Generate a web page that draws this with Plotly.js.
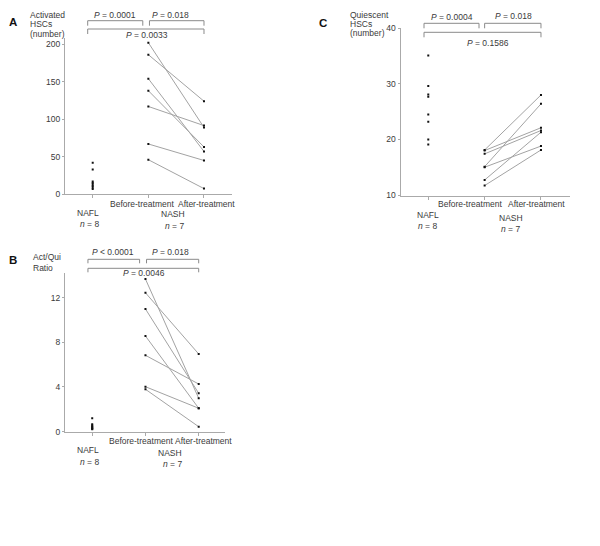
<!DOCTYPE html>
<html>
<head>
<meta charset="utf-8">
<script src="https://cdn.plot.ly/plotly-3.0.1.min.js"></script>
<style>html,body{margin:0;padding:0;background:#fff;}#chart{width:600px;height:546px;}</style>
</head>
<body>
<div id="chart"></div>
<script>
// ---- data ----
const catLabels = ['NAFL', 'Before-treatment', 'After-treatment'];
const groupLabel = 'NASH';
const nLabels = ['<i>n</i> = 8', '<i>n</i> = 7'];

// Panel A: Activated HSCs (number)
const aNafl = [42, 33, 17, 15, 13, 11, 9, 7];
const aBefore = [202, 186, 154, 138, 117, 67, 46];
const aAfter = [89, 124, 57, 63, 91.5, 45, 7.5];
const aTicks = [0, 50, 100, 150, 200];
const aP = ['<i>P</i> = 0.0001', '<i>P</i> = 0.018', '<i>P</i> = 0.0033'];

// Panel B: Act/Qui ratio
const bNafl = [1.2, 0.65, 0.55, 0.45, 0.4, 0.3, 0.25, 0.2];
const bBefore = [13.66, 12.43, 10.98, 8.56, 6.83, 4.02, 3.79];
const bAfter = [2.98, 6.95, 3.43, 2.09, 4.26, 2.09, 0.44];
const bTicks = [0, 4, 8, 12];
const bP = ['<i>P</i> &lt; 0.0001', '<i>P</i> = 0.018', '<i>P</i> = 0.0046'];

// Panel C: Quiescent HSCs (number)
const cNafl = [35.1, 29.6, 28.1, 27.7, 24.5, 23.2, 20.0, 19.1];
const cBefore = [18.1, 18.0, 17.4, 15.1, 15.0, 12.7, 11.7];
const cAfter = [28.0, 22.1, 21.6, 26.4, 18.8, 21.3, 18.1];
const cTicks = [10, 20, 30, 40];
const cP = ['<i>P</i> = 0.0004', '<i>P</i> = 0.018', '<i>P</i> = 0.1586'];

// ---- styling / layout ----
const W = 600, H = 546;
const FONT = "'Liberation Sans', Arial, sans-serif";
const TXT = '#3a3a3a';
const px = x => x / W;
const py = y => 1 - y / H;

const traces = [];
const annotations = [];
const shapes = [];

function addPanel(cfg) {
  const xa = 'x' + cfg.id, ya = 'y' + cfg.id;
  // connecting lines
  const lx = [], ly = [];
  cfg.before.forEach((b, i) => { lx.push(1, 2, null); ly.push(b, cfg.after[i], null); });
  traces.push({x: lx, y: ly, xaxis: xa, yaxis: ya, mode: 'lines', type: 'scatter',
    line: {color: '#a3a3a3', width: 1}, hoverinfo: 'skip', showlegend: false});
  // points
  const mx = [], my = [];
  cfg.nafl.forEach(v => { mx.push(0); my.push(v); });
  cfg.before.forEach(v => { mx.push(1); my.push(v); });
  cfg.after.forEach(v => { mx.push(2); my.push(v); });
  traces.push({x: mx, y: my, xaxis: xa, yaxis: ya, mode: 'markers', type: 'scatter',
    marker: {symbol: 'square', size: 2, color: '#111'}, showlegend: false});

  const axX = 'xaxis' + cfg.id;
  const axY = 'yaxis' + cfg.id;
  layout[axX] = {domain: cfg.xd, range: cfg.xr, anchor: ya, showgrid: false, zeroline: false,
    showline: true, linecolor: '#aaa', linewidth: 1, ticks: 'outside', ticklen: 3, tickcolor: '#aaa',
    tickvals: [0, 1, 2], showticklabels: false, fixedrange: true};
  layout[axY] = {domain: cfg.yd, range: cfg.yr, anchor: xa, showgrid: false, zeroline: false,
    showline: true, linecolor: '#aaa', linewidth: 1, ticks: 'outside', ticklen: 2, tickcolor: '#aaa',
    tickvals: cfg.ticks, tickfont: {family: FONT, size: 8.5, color: TXT}, fixedrange: true};

  const ann = (text, x, y, opts) => annotations.push(Object.assign({text, x: px(x), y: py(y), xref: 'paper', yref: 'paper',
    showarrow: false, xanchor: 'center', yanchor: 'middle', font: {family: FONT, size: 8.5, color: TXT}}, opts || {}));
  // panel letter
  ann('<b>' + cfg.letter + '</b>', cfg.letterPos[0], cfg.letterPos[1], {font: {family: FONT, size: 11.5, color: '#111'}});
  // y title lines
  cfg.title.forEach((t, i) => ann(t, cfg.titlePos[0], cfg.titlePos[1] + i * cfg.titleStep, {xanchor: 'left'}));
  // category labels
  ann(catLabels[1], cfg.catPos[1][0], cfg.catPos[1][1]);
  ann(catLabels[2], cfg.catPos[2][0], cfg.catPos[2][1]);
  ann(catLabels[0], cfg.catPos[0][0], cfg.catPos[0][1]);
  ann(nLabels[0], cfg.nPos[0][0], cfg.nPos[0][1]);
  ann(groupLabel, cfg.groupPos[0], cfg.groupPos[1]);
  ann(nLabels[1], cfg.nPos[1][0], cfg.nPos[1][1]);
  // P-values
  cfg.P.forEach((t, i) => ann(t, cfg.pPos[i][0], cfg.pPos[i][1]));
  // brackets
  cfg.brackets.forEach(b => {
    shapes.push({type: 'path', xref: xa, yref: 'paper',
      path: `M ${b[0]},${py(b[3])} L ${b[0]},${py(b[2])} L ${b[1]},${py(b[2])} L ${b[1]},${py(b[3])}`,
      line: {color: '#8a8a8a', width: 1}});
  });
}

const layout = {
  width: W, height: H, margin: {l: 0, r: 0, t: 0, b: 0},
  paper_bgcolor: '#fff', plot_bgcolor: 'rgba(0,0,0,0)', showlegend: false,
  font: {family: FONT, color: TXT}
};

addPanel({id: '', letter: 'A', nafl: aNafl, before: aBefore, after: aAfter, ticks: aTicks, P: aP,
  xd: [px(65), px(231.7)], xr: [-0.498, 2.498],
  yd: [py(194.3), py(38)], yr: [-0.1, (194.2 - 38) / 0.75],
  letterPos: [13, 22], title: ['Activated', 'HSCs', '(number)'], titlePos: [27.5, 14.7], titleStep: 9.7,
  catPos: [[87.7, 213.3], [141.7, 204.3], [206.7, 204.3]], nPos: [[89, 224.3], [174, 225.7]], groupPos: [173, 214.3],
  pPos: [[115, 14.7], [170.7, 14.7], [146.7, 35.3]],
  brackets: [[-0.09, 0.9, 20.7, 25.7], [1.02, 2.0, 20.7, 25.7], [-0.09, 2.0, 29, 34]]});

addPanel({id: '2', letter: 'B', nafl: bNafl, before: bBefore, after: bAfter, ticks: bTicks, P: bP,
  xd: [px(65), px(225)], xr: [-0.511, 2.494],
  yd: [py(431.6), py(273)], yr: [0, (431.6 - 273) / 11.17],
  letterPos: [13.3, 260], title: ['Act/Qui', 'Ratio'], titlePos: [31, 256.7], titleStep: 11,
  catPos: [[88, 450], [141, 440.7], [203.3, 440.7]], nPos: [[89, 462.3], [172, 464.3]], groupPos: [170, 453.3],
  pPos: [[113.3, 252.3], [170.7, 252.3], [144, 273.3]],
  brackets: [[-0.08, 0.89, 259.3, 263.3], [1.02, 2.0, 259.3, 263.3], [-0.08, 2.0, 268.3, 272.3]]});

addPanel({id: '3', letter: 'C', nafl: cNafl, before: cBefore, after: cAfter, ticks: cTicks, P: cP,
  xd: [px(400.5), px(570)], xr: [-0.493, 2.515],
  yd: [py(196), py(28)], yr: [9.82, 40.05],
  letterPos: [323.3, 23.3], title: ['Quiescent', 'HSCs', '(number)'], titlePos: [347.7, 15], titleStep: 9.2,
  catPos: [[428, 215], [470, 204.3], [536, 204.3]], nPos: [[427, 225.7], [510, 229.3]], groupPos: [511, 218.3],
  pPos: [[451.7, 16.7], [513, 16], [488, 43.3]],
  brackets: [[-0.076, 0.9, 23.3, 28.3], [1.0, 2.0, 23.3, 28.3], [-0.076, 2.0, 32.3, 37.3]]});

layout.annotations = annotations;
layout.shapes = shapes;

Plotly.newPlot('chart', traces, layout, {displayModeBar: false, staticPlot: true});
</script>
</body>
</html>
